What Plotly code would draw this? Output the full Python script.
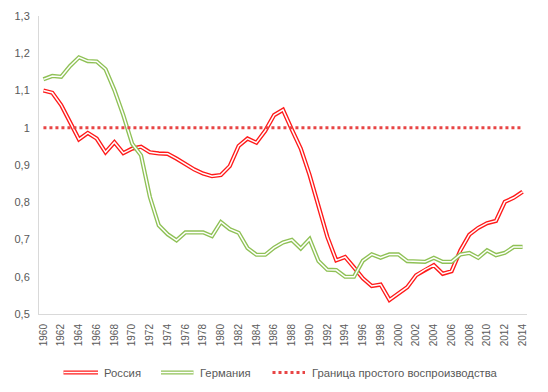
import plotly.graph_objects as go

years = [str(y) for y in range(1960, 2015)]

russia = [1.10, 1.094, 1.061, 1.016, 0.969, 0.986, 0.971, 0.934, 0.961, 0.932,
          0.944, 0.949, 0.934, 0.931, 0.930, 0.917, 0.902, 0.888, 0.877, 0.870,
          0.873, 0.897, 0.951, 0.971, 0.960, 0.992, 1.034, 1.048, 0.995, 0.944,
          0.873, 0.787, 0.707, 0.644, 0.653, 0.625, 0.596, 0.575, 0.579, 0.538,
          0.556, 0.572, 0.604, 0.619, 0.631, 0.608, 0.615, 0.671, 0.713, 0.731,
          0.744, 0.750, 0.801, 0.812, 0.828]

germany = [1.13, 1.139, 1.137, 1.166, 1.189, 1.179, 1.178, 1.157, 1.101, 1.034,
           0.957, 0.926, 0.814, 0.738, 0.714, 0.698, 0.719, 0.719, 0.719, 0.709,
           0.747, 0.728, 0.718, 0.677, 0.659, 0.659, 0.678, 0.692, 0.699, 0.676,
           0.701, 0.642, 0.619, 0.618, 0.600, 0.600, 0.643, 0.660, 0.651, 0.660,
           0.660, 0.642, 0.640, 0.640, 0.651, 0.640, 0.640, 0.660, 0.664, 0.651,
           0.671, 0.658, 0.664, 0.680, 0.680]

boundary_value = 1.0
boundary = [boundary_value for _ in years]

y_tickvals = [0.5, 0.6, 0.7, 0.8, 0.9, 1.0, 1.1, 1.2, 1.3]
y_ticktext = ["0,5", "0,6", "0,7", "0,8", "0,9", "1", "1,1", "1,2", "1,3"]
x_tickvals = years[::2]

names = ["Россия", "Германия", "Граница простого воспроизводства"]

RED = "#FF1A1A"
GREEN = "#8FC156"
DOT = "#E84545"
TEXT = "#595959"
FONT = "Liberation Sans"

fig = go.Figure()
for vals, col in [(russia, RED), (germany, GREEN)]:
    fig.add_trace(go.Scatter(x=years, y=vals, mode="lines",
                             line=dict(color=col, width=4.2), showlegend=False,
                             hoverinfo="skip"))
    fig.add_trace(go.Scatter(x=years, y=vals, mode="lines",
                             line=dict(color="white", width=1.5), showlegend=False,
                             hoverinfo="skip"))
fig.add_trace(go.Scatter(x=years, y=boundary, mode="lines",
                         line=dict(color=DOT, width=3, dash="dot"),
                         showlegend=False))

# page body has an 8px default margin: figure starts at (8, 8) in the window
OFF = 8
W, H = 548 - OFF, 392 - OFF
L, R, T, B = 39, 527, 16, 314          # plot area in window pixels


def px(x):
    return (x - L) / (R - L)


def py(y):
    return (B - y) / (B - T)


ly = 372.5
shapes = []
annotations = []
for (x0, x1, tx, col, kind, name) in [
        (63.5, 98, 102, RED, "double", names[0]),
        (161, 193.5, 198, GREEN, "double", names[1]),
        (272.5, 305, 310, DOT, "dot", names[2])]:
    if kind == "double":
        shapes.append(dict(type="line", xref="paper", yref="paper",
                           x0=px(x0), x1=px(x1), y0=py(ly), y1=py(ly),
                           line=dict(color=col, width=4.2)))
        shapes.append(dict(type="line", xref="paper", yref="paper",
                           x0=px(x0), x1=px(x1), y0=py(ly), y1=py(ly),
                           line=dict(color="white", width=1.5)))
    else:
        shapes.append(dict(type="line", xref="paper", yref="paper",
                           x0=px(x0), x1=px(x1), y0=py(ly), y1=py(ly),
                           line=dict(color=col, width=3, dash="dot")))
    annotations.append(dict(text=name, xref="paper", yref="paper",
                            x=px(tx), y=py(ly), xanchor="left", yanchor="middle",
                            showarrow=False,
                            font=dict(family=FONT, size=11.3, color=TEXT)))

fig.update_layout(
    width=W, height=H,
    margin=dict(l=L - OFF, r=548 - R, t=T - OFF, b=392 - B, autoexpand=False),
    paper_bgcolor="white", plot_bgcolor="white",
    showlegend=False,
    shapes=shapes, annotations=annotations,
    font=dict(family=FONT, size=11, color=TEXT),
    xaxis=dict(type="category", range=[-0.5, len(years) - 0.5],
               tickvals=x_tickvals, ticktext=x_tickvals, tickangle=-90,
               showgrid=False, zeroline=False, showline=True,
               linecolor="#D9D9D9", linewidth=1, ticks="",
               ticklabelstandoff=5, automargin=False,
               tickfont=dict(family=FONT, size=10, color=TEXT)),
    yaxis=dict(range=[0.5, 1.3], tickvals=y_tickvals, ticktext=y_ticktext,
               showgrid=False, zeroline=False, showline=True,
               linecolor="#D9D9D9", linewidth=1, ticks="",
               ticklabelstandoff=6, automargin=False,
               tickfont=dict(family=FONT, size=11, color=TEXT)),
)

fig.write_html("out.html")
